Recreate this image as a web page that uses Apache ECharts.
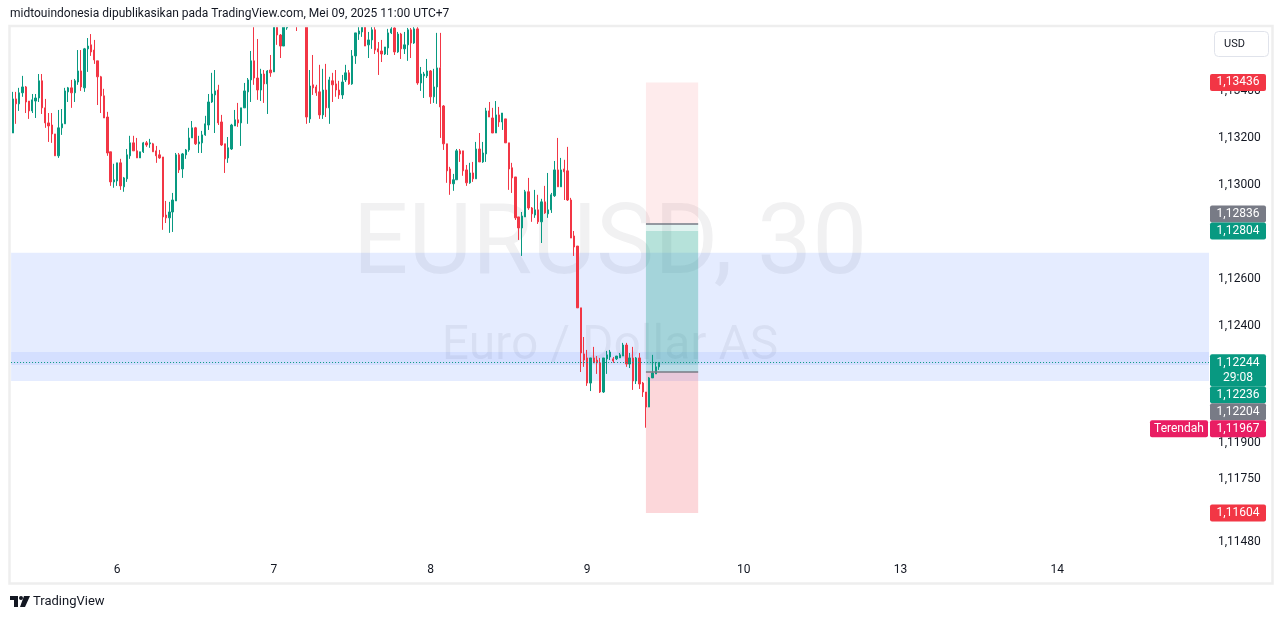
<!DOCTYPE html>
<html><head><meta charset="utf-8">
<script src="https://cdn.jsdelivr.net/npm/echarts@6/dist/echarts.min.js"></script>
<style>html,body{margin:0;padding:0;background:#fff}#c{width:1281px;height:619px}</style>
</head><body><div id="c"></div>
<script>
// ---------- data ----------
const dayLabels = ['6','7','8','9','10','13','14'];
const firstDaySlot = 32;      // slot of day "6" 00:00 (30-minute slots)
const slotsPerDay = 48;
const slotCount = 367;        // visible 30-minute slots incl. empty future
const priceTicks = [1.1148, 1.1175, 1.119, 1.124, 1.126, 1.130, 1.132, 1.134];
const yMin = 1.11417, yMax = 1.13672;

// [open, close, low, high]
const candles = [
[1.13221,1.13366,1.13221,1.13396],[1.13366,1.13345,1.13260,1.13396],[1.13345,1.13392,1.13315,1.13413],[1.13392,1.13417,1.13375,1.13464],[1.13417,1.13353,1.13306,1.13421],
[1.13357,1.13315,1.13281,1.13357],[1.13315,1.13362,1.13306,1.13387],[1.13357,1.13370,1.13285,1.13387],[1.13370,1.13443,1.13353,1.13472],[1.13443,1.13328,1.13302,1.13472],
[1.13328,1.13264,1.13243,1.13366],[1.13264,1.13251,1.13183,1.13306],[1.13255,1.13217,1.13179,1.13306],[1.13217,1.13124,1.13124,1.13217],[1.13124,1.13243,1.13115,1.13319],
[1.13243,1.13260,1.13213,1.13323],[1.13260,1.13400,1.13260,1.13413],[1.13396,1.13413,1.13353,1.13417],[1.13413,1.13392,1.13328,1.13447],[1.13392,1.13443,1.13353,1.13451],
[1.13438,1.13485,1.13426,1.13574],[1.13485,1.13417,1.13400,1.13574],[1.13413,1.13579,1.13396,1.13583],[1.13579,1.13591,1.13481,1.13625],[1.13596,1.13566,1.13549,1.13642],
[1.13574,1.13532,1.13515,1.13617],[1.13528,1.13460,1.13340,1.13528],[1.13460,1.13379,1.13306,1.13464],[1.13379,1.13285,1.13285,1.13409],[1.13289,1.13136,1.13124,1.13311],
[1.13141,1.13013,1.12996,1.13141],[1.13013,1.13022,1.12988,1.13090],[1.13017,1.13094,1.12996,1.13094],[1.13094,1.12996,1.12979,1.13111],[1.12992,1.13030,1.12971,1.13034],
[1.13026,1.13128,1.13013,1.13153],[1.13124,1.13179,1.13111,1.13209],[1.13179,1.13145,1.13145,1.13209],[1.13145,1.13115,1.13115,1.13200],[1.13115,1.13141,1.13115,1.13141],
[1.13141,1.13179,1.13136,1.13183],[1.13179,1.13170,1.13162,1.13187],[1.13175,1.13179,1.13158,1.13196],[1.13175,1.13141,1.13141,1.13179],[1.13145,1.13124,1.13094,1.13166],
[1.13128,1.13115,1.13111,1.13149],[1.13119,1.12864,1.12809,1.13119],[1.12872,1.12860,1.12838,1.12932],[1.12860,1.12885,1.12796,1.12928],[1.12885,1.12936,1.12800,1.12966],
[1.12932,1.13128,1.12932,1.13136],[1.13128,1.13064,1.13051,1.13136],[1.13068,1.13132,1.13030,1.13136],[1.13128,1.13149,1.13111,1.13153],[1.13149,1.13200,1.13141,1.13243],
[1.13200,1.13243,1.13200,1.13272],[1.13243,1.13175,1.13170,1.13247],[1.13175,1.13183,1.13136,1.13209],[1.13179,1.13213,1.13136,1.13230],[1.13213,1.13260,1.13209,1.13294],
[1.13255,1.13353,1.13234,1.13387],[1.13353,1.13387,1.13349,1.13477],[1.13383,1.13400,1.13221,1.13489],[1.13404,1.13264,1.13255,1.13426],[1.13268,1.13170,1.13166,1.13298],
[1.13175,1.13111,1.13051,1.13175],[1.13115,1.13158,1.13094,1.13204],[1.13153,1.13255,1.13149,1.13260],[1.13251,1.13277,1.13251,1.13319],[1.13277,1.13264,1.13247,1.13349],
[1.13264,1.13328,1.13166,1.13328],[1.13328,1.13400,1.13328,1.13434],[1.13396,1.13447,1.13260,1.13455],[1.13447,1.13528,1.13353,1.13570],[1.13528,1.13455,1.13426,1.13690],
[1.13455,1.13404,1.13362,1.13621],[1.13404,1.13472,1.13357,1.13494],[1.13472,1.13430,1.13349,1.13489],[1.13430,1.13485,1.13302,1.13489],[1.13489,1.13477,1.13460,1.13553],
[1.13481,1.13700,1.13481,1.13720],[1.13680,1.13638,1.13596,1.13700],[1.13638,1.13591,1.13540,1.13642],[1.13591,1.13700,1.13591,1.13720],[1.13668,1.13740,1.13660,1.13760],
[1.13740,1.13760,1.13720,1.13790],[1.13760,1.13720,1.13700,1.13780],[1.13730,1.13690,1.13655,1.13750],[1.13690,1.13720,1.13680,1.13740],[1.13720,1.13730,1.13690,1.13760],
[1.13730,1.13289,1.13260,1.13740],[1.13281,1.13421,1.13264,1.13489],[1.13426,1.13413,1.13383,1.13553],[1.13417,1.13392,1.13379,1.13426],[1.13396,1.13298,1.13281,1.13511],
[1.13298,1.13404,1.13281,1.13494],[1.13404,1.13328,1.13289,1.13515],[1.13328,1.13447,1.13260,1.13460],[1.13443,1.13426,1.13353,1.13477],[1.13430,1.13404,1.13375,1.13489],
[1.13404,1.13383,1.13366,1.13443],[1.13383,1.13438,1.13366,1.13468],[1.13447,1.13477,1.13438,1.13511],[1.13477,1.13430,1.13426,1.13489],[1.13430,1.13549,1.13426,1.13574],
[1.13549,1.13647,1.13515,1.13647],[1.13642,1.13655,1.13617,1.13680],[1.13651,1.13680,1.13630,1.13700],[1.13680,1.13591,1.13591,1.13700],[1.13596,1.13617,1.13540,1.13651],
[1.13617,1.13660,1.13579,1.13680],[1.13660,1.13574,1.13557,1.13680],[1.13579,1.13566,1.13468,1.13608],[1.13570,1.13557,1.13523,1.13617],[1.13557,1.13587,1.13553,1.13587],
[1.13583,1.13647,1.13553,1.13664],[1.13647,1.13664,1.13642,1.13680],[1.13668,1.13566,1.13553,1.13685],[1.13566,1.13642,1.13562,1.13651],[1.13642,1.13579,1.13536,1.13647],
[1.13579,1.13596,1.13557,1.13651],[1.13596,1.13660,1.13528,1.13668],[1.13660,1.13604,1.13540,1.13668],[1.13604,1.13664,1.13600,1.13680],[1.13664,1.13434,1.13426,1.13680],
[1.13434,1.13472,1.13400,1.13502],[1.13464,1.13472,1.13370,1.13481],[1.13464,1.13485,1.13455,1.13536],[1.13485,1.13375,1.13345,1.13489],[1.13375,1.13417,1.13349,1.13494],
[1.13417,1.13498,1.13345,1.13647],[1.13498,1.13332,1.13200,1.13647],[1.13336,1.13175,1.13149,1.13340],[1.13175,1.13060,1.13009,1.13175],[1.13068,1.13005,1.12958,1.13077],
[1.13005,1.13022,1.12975,1.13047],[1.13022,1.13145,1.13022,1.13153],[1.13145,1.13132,1.13098,1.13153],[1.13145,1.13060,1.13039,1.13145],[1.13064,1.13009,1.12996,1.13085],
[1.13009,1.13051,1.13005,1.13094],[1.13051,1.13026,1.13013,1.13098],[1.13026,1.13153,1.13026,1.13183],[1.13153,1.13098,1.13098,1.13221],[1.13098,1.13136,1.13094,1.13183],
[1.13132,1.13315,1.13098,1.13328],[1.13315,1.13289,1.13289,1.13353],[1.13285,1.13221,1.13221,1.13328],[1.13221,1.13298,1.13221,1.13357],[1.13298,1.13268,1.13247,1.13332],
[1.13268,1.13306,1.13234,1.13306],[1.13281,1.13179,1.13179,1.13281],[1.13179,1.13068,1.12979,1.13179],[1.13073,1.13030,1.12966,1.13094],[1.13034,1.12860,1.12851,1.13034],
[1.12864,1.12817,1.12766,1.12864],[1.12817,1.12868,1.12698,1.12885],[1.12864,1.12971,1.12864,1.12979],[1.12971,1.12902,1.12894,1.13030],[1.12902,1.12877,1.12843,1.12906],
[1.12872,1.12894,1.12860,1.12979],[1.12894,1.12843,1.12834,1.12958],[1.12843,1.12928,1.12753,1.12941],[1.12928,1.12881,1.12877,1.12996],[1.12877,1.12894,1.12860,1.13051],
[1.12894,1.12958,1.12881,1.12966],[1.12954,1.13064,1.12949,1.13102],[1.13064,1.12992,1.12992,1.13200],[1.12992,1.13064,1.12992,1.13115],[1.13068,1.13056,1.12936,1.13107],
[1.13060,1.12936,1.12932,1.13162],[1.12936,1.12774,1.12774,1.12945],[1.12783,1.12736,1.12698,1.12804],[1.12740,1.12477,1.12477,1.12740],[1.12477,1.12285,1.12204,1.12477],
[1.12281,1.12255,1.12226,1.12353],[1.12264,1.12157,1.12145,1.12298],[1.12157,1.12264,1.12123,1.12264],[1.12264,1.12243,1.12243,1.12311],[1.12255,1.12243,1.12196,1.12272],
[1.12243,1.12119,1.12115,1.12264],[1.12119,1.12264,1.12115,1.12264],[1.12260,1.12277,1.12196,1.12294],[1.12268,1.12289,1.12255,1.12298],[1.12260,1.12251,1.12243,1.12268],
[1.12260,1.12272,1.12255,1.12272],[1.12264,1.12277,1.12264,1.12285],[1.12272,1.12319,1.12272,1.12328],[1.12319,1.12238,1.12226,1.12328],[1.12238,1.12264,1.12221,1.12285],
[1.12264,1.12166,1.12128,1.12311],[1.12166,1.12264,1.12153,1.12268],[1.12264,1.12153,1.12132,1.12285],[1.12157,1.12119,1.12098,1.12162],[1.12119,1.12055,1.11967,1.12119],
[1.12055,1.12179,1.12055,1.12183],[1.12179,1.12200,1.12179,1.12277],[1.12196,1.12226,1.12196,1.12247],[1.12226,1.12244,1.12213,1.12247]
];

const lastPrice = 1.12244;
const lowPrice = 1.11967;
const zoneRange = [1.12711, 1.12166];
const zoneBand = [1.12289, 1.12234];
const shortPos = {stop: 1.13436, entry: 1.12836, target: 1.12236};
const longPos = {target: 1.12804, entry: 1.12204, stop: 1.11604};
const posSlots = [194, 210];

// ---------- style ----------
const FONT = 'Roboto, "Noto Sans", sans-serif';
const UP = '#089981', DOWN = '#f23645', GRAY = '#787b86', PINK = '#e91e63', TXT = '#131722';

const chart = echarts.init(document.getElementById('c'));
const categories = Array.from({length: slotCount}, (_, i) => {
  const k = (i - firstDaySlot) / slotsPerDay;
  return (Number.isInteger(k) && k >= 0 && k < dayLabels.length) ? dayLabels[k] : '';
});
const fmt = v => v.toFixed(5).replace('.', ',');

function rectArea(y1, y2, color, x1, x2) {
  const a = {yAxis: y1, itemStyle: {color: color}};
  const b = {yAxis: y2};
  if (x1 !== undefined) { a.xAxis = x1; b.xAxis = x2; }
  return [a, b];
}

chart.setOption({
  animation: false,
  grid: {left: 11.07, right: 72, top: 27, bottom: 62},
  xAxis: {
    type: 'category', data: categories, boundaryGap: true,
    axisLine: {show: false}, axisTick: {show: false}, splitLine: {show: false},
    axisLabel: {interval: (i, v) => v !== '', color: TXT, fontSize: 12, fontFamily: FONT, margin: 7}
  },
  yAxis: {
    type: 'value', position: 'right', min: yMin, max: yMax,
    splitLine: {show: false}, axisLine: {show: false}, axisTick: {show: false},
    axisLabel: {customValues: priceTicks, formatter: fmt, color: TXT, fontSize: 12, fontFamily: FONT, margin: 9}
  },
  series: [{
    type: 'candlestick', data: candles, barWidth: 1.8, clip: true,
    itemStyle: {color: UP, color0: DOWN, borderColor: UP, borderColor0: DOWN, borderWidth: 1},
    markArea: {
      silent: true,
      data: [
        rectArea(zoneRange[0], zoneRange[1], 'rgba(41,98,255,0.12)'),
        rectArea(zoneBand[0], zoneBand[1], 'rgba(41,98,255,0.09)'),
        rectArea(shortPos.stop, shortPos.entry, 'rgba(242,54,69,0.1)', posSlots[0], posSlots[1]),
        rectArea(shortPos.entry, shortPos.target, 'rgba(8,153,129,0.12)', posSlots[0], posSlots[1]),
        rectArea(longPos.target, longPos.entry, 'rgba(8,153,129,0.2)', posSlots[0], posSlots[1]),
        rectArea(longPos.entry, longPos.stop, 'rgba(242,54,69,0.2)', posSlots[0], posSlots[1])
      ]
    },
    markLine: {
      silent: true, symbol: ['none', 'none'], label: {show: false}, precision: 5,
      data: [
        {yAxis: lastPrice, lineStyle: {type: [1, 2], color: UP, width: 1}},
        [{xAxis: posSlots[0], yAxis: shortPos.entry, lineStyle: {color: GRAY, width: 1.5, type: 'solid'}}, {xAxis: posSlots[1], yAxis: shortPos.entry}],
        [{xAxis: posSlots[0], yAxis: longPos.entry, lineStyle: {color: GRAY, width: 1.5, type: 'solid'}}, {xAxis: posSlots[1], yAxis: longPos.entry}]
      ]
    }
  }]
});

// ---------- price tags on the axis ----------
const priceTags = [
  {value: shortPos.stop, color: DOWN},
  {value: shortPos.entry, color: GRAY},
  {value: longPos.target, color: UP, pinned: true},
  {value: lastPrice, color: UP, pinned: true, sub: '29:08'},
  {value: shortPos.target, color: UP},
  {value: longPos.entry, color: GRAY},
  {value: lowPrice, color: PINK, tag: 'Terendah'},
  {value: longPos.stop, color: DOWN}
];
const H = 17, SUBH = 15;
const placed = [];
function box(t, y) { return {y: y, top: y - H / 2, bottom: y + H / 2 + (t.sub ? SUBH : 0)}; }
function overlap(a, b) { return a.top < b.bottom - 0.5 && b.top < a.bottom - 0.5; }
priceTags.forEach(t => { t.nat = chart.convertToPixel({yAxisIndex: 0}, t.value); });
priceTags.filter(t => t.pinned).forEach(t => { t.b = box(t, t.nat); placed.push(t.b); });
priceTags.filter(t => !t.pinned).forEach(t => {
  let y = t.nat, dir = 0;
  for (let n = 0; n < 20; n++) {
    const b = box(t, y);
    const o = placed.find(p => overlap(b, p));
    if (!o) break;
    if (!dir) dir = o.y > t.nat ? -1 : 1;
    y = dir < 0 ? o.top - (b.bottom - y) : o.bottom + (y - b.top);
  }
  t.b = box(t, y); placed.push(t.b);
});
const tagGraphics = [];
priceTags.forEach(t => {
  const b = t.b;
  tagGraphics.push({type: 'rect', z: 20, shape: {x: 1210, y: b.top, width: 56, height: b.bottom - b.top, r: 2}, style: {fill: t.color}});
  tagGraphics.push({type: 'text', z: 21, x: 1238, y: b.y, style: {text: fmt(t.value), fill: '#fff', font: '12px ' + FONT, align: 'center', verticalAlign: 'middle'}});
  if (t.sub) tagGraphics.push({type: 'text', z: 21, x: 1238, y: b.y + SUBH, style: {text: t.sub, fill: '#fff', font: '12px ' + FONT, align: 'center', verticalAlign: 'middle'}});
  if (t.tag) {
    tagGraphics.push({type: 'rect', z: 20, shape: {x: 1150, y: b.top, width: 58, height: H, r: 2}, style: {fill: t.color}});
    tagGraphics.push({type: 'text', z: 21, x: 1179, y: b.y, style: {text: t.tag, fill: '#fff', font: '12px ' + FONT, align: 'center', verticalAlign: 'middle'}});
  }
});

chart.setOption({
  graphic: [
    {type: 'text', z: 0, x: 610, y: 248, style: {text: 'EURUSD, 30', fill: 'rgba(19,23,34,0.06)', font: '98px ' + FONT, align: 'center', verticalAlign: 'middle'}},
    {type: 'text', z: 0, x: 610, y: 347, style: {text: 'Euro / Dollar AS', fill: 'rgba(19,23,34,0.06)', font: '48px ' + FONT, align: 'center', verticalAlign: 'middle'}},
    {type: 'rect', z: 25, shape: {x: 0, y: 0, width: 1281, height: 26.5}, style: {fill: '#fff'}},
    {type: 'rect', z: 30, shape: {x: 9.5, y: 26, width: 1263, height: 557.5}, style: {fill: 'none', stroke: '#eeeeee', lineWidth: 2.5}},
    {type: 'text', z: 30, x: 10, y: 14, style: {text: 'midtouindonesia dipublikasikan pada TradingView.com, Mei 09, 2025 11:00 UTC+7', fill: TXT, font: '12px ' + FONT, verticalAlign: 'middle'}},
    {type: 'rect', z: 30, shape: {x: 1214.5, y: 31.5, width: 54, height: 25, r: 4}, style: {fill: '#fff', stroke: '#e0e3eb', lineWidth: 1}},
    {type: 'text', z: 31, x: 1224, y: 44, style: {text: 'USD', fill: TXT, font: '11px ' + FONT, verticalAlign: 'middle'}},
    {type: 'rect', z: 30, shape: {x: 10, y: 596, width: 8, height: 4}, style: {fill: TXT}},
    {type: 'rect', z: 30, shape: {x: 14, y: 596, width: 4, height: 11}, style: {fill: TXT}},
    {type: 'circle', z: 30, shape: {cx: 21, cy: 598, r: 2}, style: {fill: TXT}},
    {type: 'polygon', z: 30, shape: {points: [[24, 596], [30, 596], [25, 607], [20, 607]]}, style: {fill: TXT}},
    {type: 'text', z: 30, x: 33, y: 602, style: {text: 'TradingView', fill: TXT, font: '13px ' + FONT, verticalAlign: 'middle'}}
  ].concat(tagGraphics)
});
</script></body></html>
